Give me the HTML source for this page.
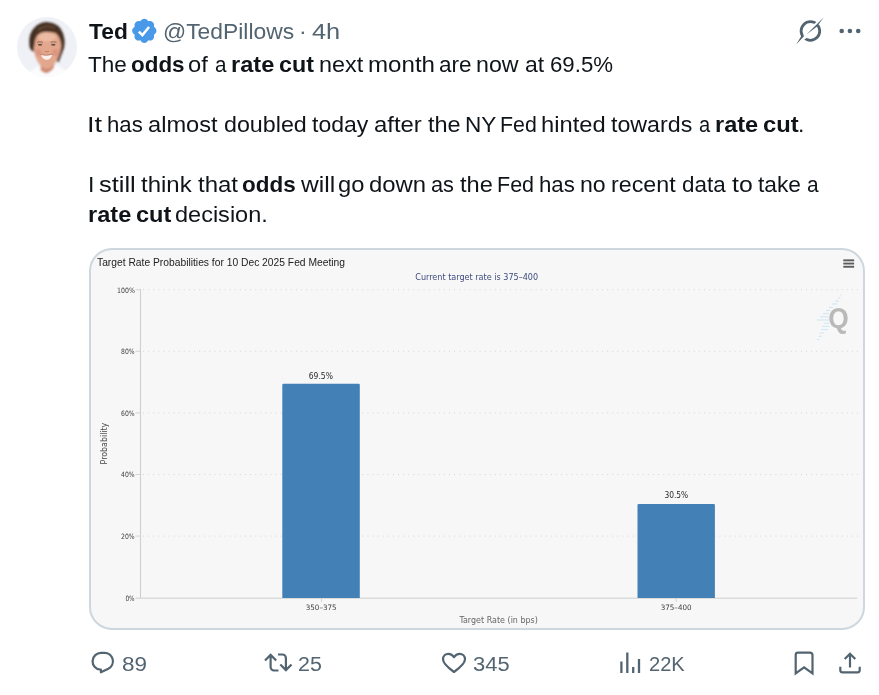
<!DOCTYPE html>
<html><head><meta charset="utf-8">
<style>
html,body{margin:0;padding:0;background:#fff;}
body{width:879px;height:695px;position:relative;overflow:hidden;font-family:"Liberation Sans",sans-serif;color:#0f1419;}
.abs{position:absolute;white-space:nowrap;}
.t{font-size:21.5px;line-height:30px;left:89px;letter-spacing:0.35px;}
.g{color:#536471;}
b{font-weight:700;}
#card{position:absolute;box-sizing:border-box;left:89px;top:248px;width:776px;height:382px;border:2px solid #cdd7dd;border-radius:23px;background:#f7f7f7;overflow:hidden;}
.act{font-size:19.5px;color:#536471;line-height:22px;transform-origin:0 0;}
svg{position:absolute;left:0;top:0;overflow:visible;}
svg text{font-family:"DejaVu Sans","Liberation Sans",sans-serif;}
.w{position:absolute;white-space:nowrap;font-size:22.3px;line-height:30px;transform-origin:0 0;}
</style></head><body>
<!-- avatar -->
<svg id="avatar" width="879" height="695" viewBox="0 0 879 695">
<defs>
<clipPath id="avc"><circle cx="47" cy="47" r="30"/></clipPath>
<filter id="bl" x="-20%" y="-20%" width="140%" height="140%"><feGaussianBlur stdDeviation="1.1"/></filter>
<filter id="bl2" x="-20%" y="-20%" width="140%" height="140%"><feGaussianBlur stdDeviation="0.6"/></filter>
</defs>
<circle cx="47" cy="47" r="30" fill="#eff1f6"/>
<g clip-path="url(#avc)">
 <g filter="url(#bl)">
  <!-- shirt -->
  <path d="M30 72 Q36 66.500 41 66 L47 75 L55 64.500 Q62 66.500 67 73 L70 84 L26 84 Z" fill="#fcfcfe"/>
  <!-- neck -->
  <path d="M40.500 62 L40.500 70 Q46 77 53.500 68.500 L56 58 Z" fill="#cf8a72"/>
  <!-- hair back -->
  <path d="M29.500 47 Q27.500 33 36 26 Q44 19.500 54 23.500 Q63 27 64.600 40 Q65 47 62.500 52 L58.500 62.500 L56 60 L58 40 L36 38 L34.500 52 Q31 51 29.500 47 Z" fill="#412d22"/>
  <!-- face -->
  <path d="M33.800 45 Q33.500 55 38.500 63 Q42.500 68.800 46.500 68.800 Q51 68.800 55.500 62.500 Q60.500 55 61.300 45 Q61.500 36 55 32 Q47 28.500 40 31.500 Q34 35 33.800 45 Z" fill="#e3a78d"/>
  <ellipse cx="47" cy="37" rx="9" ry="4.500" fill="#ecbba3"/>
  <ellipse cx="38.500" cy="52.500" rx="3.200" ry="3.500" fill="#dc9580"/>
  <ellipse cx="55.500" cy="52.500" rx="3.200" ry="3.500" fill="#dc9580"/>
  <!-- fringe -->
  <path d="M31.500 44 Q31 31 41 26.500 Q52 23 59.500 30 Q64 35 63.500 46 Q61.500 47 60.800 43 Q60 36.500 55.500 33 Q50 31.500 44.500 32 Q38.500 32.500 36 37.500 Q34.500 41 34.300 46 Q32 47 31.500 44 Z" fill="#453024"/>
  <path d="M38 30 Q46 24 55 28" stroke="#6a4a36" stroke-width="1.600" fill="none"/>
 </g>
 <g filter="url(#bl2)">
  <path d="M40.800 54.700 Q46.500 56.300 52.600 54.500 Q50.500 59.800 46.700 59.800 Q43 59.800 40.800 54.700Z" fill="#fbf1ec"/>
  <path d="M40.500 54.500 Q46.500 56 53 54.200" stroke="#b5705f" stroke-width="0.700" fill="none"/>
  <ellipse cx="40" cy="44.800" rx="2.300" ry="1" fill="#6f5148"/>
  <ellipse cx="53.300" cy="44.800" rx="2.300" ry="1" fill="#6f5148"/>
  <path d="M37 42.300 Q40 41.200 43 42.300 M50.500 42.300 Q53.500 41.200 56.500 42.300" stroke="#8a6250" stroke-width="0.900" fill="none"/>
  <path d="M44.500 51.300 Q46.700 52.500 49 51.300" stroke="#c07f68" stroke-width="1" fill="none"/>
 </g>
</g>
</svg>

<span class="w" style="left:89.12px;top:16.80px;transform:scaleX(1.0216)"><b>Ted</b></span>
<span class="w g" style="left:162.92px;top:16.80px;transform:scaleX(1.0245)">@TedPillows</span>
<span class="w g" style="left:298.89px;top:16.80px;transform:scaleX(1.0300)">·</span>
<span class="w g" style="left:311.98px;top:16.80px;transform:scaleX(1.1370)">4h</span>

<span class="w" style="left:88.03px;top:49.80px;transform:scaleX(1.0088)">The</span>
<span class="w" style="left:130.63px;top:49.80px;transform:scaleX(1.0062)"><b>odds</b></span>
<span class="w" style="left:188.22px;top:49.80px;transform:scaleX(1.0645)">of</span>
<span class="w" style="left:214.50px;top:49.80px;transform:scaleX(0.9270)">a</span>
<span class="w" style="left:231.07px;top:49.80px;transform:scaleX(1.0580)"><b>rate</b></span>
<span class="w" style="left:279.26px;top:49.80px;transform:scaleX(1.0432)"><b>cut</b></span>
<span class="w" style="left:318.80px;top:49.80px;transform:scaleX(1.0495)">next</span>
<span class="w" style="left:368.37px;top:49.80px;transform:scaleX(1.0808)">month</span>
<span class="w" style="left:439.05px;top:49.80px;transform:scaleX(1.0101)">are</span>
<span class="w" style="left:475.99px;top:49.80px;transform:scaleX(1.0398)">now</span>
<span class="w" style="left:524.50px;top:49.80px;transform:scaleX(1.0300)">at</span>
<span class="w" style="left:550.11px;top:49.80px;transform:scaleX(0.9970)">69.5%</span>

<span class="w" style="left:86.93px;top:109.80px;transform:scaleX(1.2170)">It</span>
<span class="w" style="left:107.34px;top:109.80px;transform:scaleX(0.9949)">has</span>
<span class="w" style="left:148.05px;top:109.80px;transform:scaleX(1.0591)">almost</span>
<span class="w" style="left:223.62px;top:109.80px;transform:scaleX(1.0430)">doubled</span>
<span class="w" style="left:312.06px;top:109.80px;transform:scaleX(1.0327)">today</span>
<span class="w" style="left:373.81px;top:109.80px;transform:scaleX(1.0714)">after</span>
<span class="w" style="left:427.53px;top:109.80px;transform:scaleX(1.0537)">the</span>
<span class="w" style="left:464.82px;top:109.80px;transform:scaleX(1.0116)">NY</span>
<span class="w" style="left:499.73px;top:109.80px;transform:scaleX(0.9562)">Fed</span>
<span class="w" style="left:541.15px;top:109.80px;transform:scaleX(1.0633)">hinted</span>
<span class="w" style="left:610.95px;top:109.80px;transform:scaleX(1.0407)">towards</span>
<span class="w" style="left:698.62px;top:109.80px;transform:scaleX(0.9000)">a</span>
<span class="w" style="left:715.20px;top:109.80px;transform:scaleX(1.0553)"><b>rate</b></span>
<span class="w" style="left:762.81px;top:109.80px;transform:scaleX(1.0643)"><b>cut</b></span>
<span class="w" style="left:797.80px;top:109.80px;transform:scaleX(1.0300)">.</span>

<span class="w" style="left:87.53px;top:169.80px;transform:scaleX(1.0300)">I</span>
<span class="w" style="left:99.38px;top:169.80px;transform:scaleX(1.1388)">still</span>
<span class="w" style="left:140.94px;top:169.80px;transform:scaleX(1.0755)">think</span>
<span class="w" style="left:197.54px;top:169.80px;transform:scaleX(1.0764)">that</span>
<span class="w" style="left:242.05px;top:169.80px;transform:scaleX(1.0066)"><b>odds</b></span>
<span class="w" style="left:300.92px;top:169.80px;transform:scaleX(1.1046)">will</span>
<span class="w" style="left:338.22px;top:169.80px;transform:scaleX(1.0632)">go</span>
<span class="w" style="left:369.06px;top:169.80px;transform:scaleX(1.0715)">down</span>
<span class="w" style="left:431.06px;top:169.80px;transform:scaleX(0.9751)">as</span>
<span class="w" style="left:460.29px;top:169.80px;transform:scaleX(1.0582)">the</span>
<span class="w" style="left:497.18px;top:169.80px;transform:scaleX(0.9647)">Fed</span>
<span class="w" style="left:538.62px;top:169.80px;transform:scaleX(0.9978)">has</span>
<span class="w" style="left:579.76px;top:169.80px;transform:scaleX(1.0363)">no</span>
<span class="w" style="left:610.88px;top:169.80px;transform:scaleX(1.0427)">recent</span>
<span class="w" style="left:681.78px;top:169.80px;transform:scaleX(1.0044)">data</span>
<span class="w" style="left:731.55px;top:169.80px;transform:scaleX(1.1115)">to</span>
<span class="w" style="left:757.68px;top:169.80px;transform:scaleX(1.0196)">take</span>
<span class="w" style="left:806.50px;top:169.80px;transform:scaleX(0.9358)">a</span>

<span class="w" style="left:88.02px;top:199.80px;transform:scaleX(1.0570)"><b>rate</b></span>
<span class="w" style="left:135.78px;top:199.80px;transform:scaleX(1.0543)"><b>cut</b></span>
<span class="w" style="left:175.20px;top:199.80px;transform:scaleX(1.0543)">decision.</span>


<!-- verified badge, grok, more -->
<svg id="topicons" width="879" height="695" viewBox="0 0 879 695">
 <g transform="translate(144.300,30.800) scale(1.185) translate(-12,-12)">
  <path d="M22.25 12c0-1.430-.88-2.670-2.190-3.340.460-1.390.200-2.900-.810-3.910s-2.520-1.270-3.910-.810c-.660-1.310-1.910-2.190-3.340-2.190s-2.670.880-3.330 2.190c-1.400-.460-2.910-.200-3.920.810s-1.260 2.520-.800 3.910c-1.310.670-2.200 1.910-2.200 3.340s.890 2.670 2.200 3.340c-.460 1.390-.210 2.900.800 3.910s2.520 1.260 3.910.810c.670 1.310 1.910 2.190 3.340 2.190s2.680-.880 3.340-2.190c1.390.450 2.900.200 3.910-.810s1.270-2.520.810-3.910c1.310-.670 2.190-1.910 2.190-3.340z" fill="#4a99e9"/>
  <path d="M7.400 12.700 L10.400 15.600 L16 8.800" stroke="#fff" stroke-width="2.100" fill="none" stroke-linecap="butt" stroke-linejoin="miter"/>
 </g>
 <!-- grok -->
 <g fill="none" stroke="#536471">
  <circle cx="810.400" cy="31" r="9.300" stroke-width="2.800"/>
 </g>
 <path d="M824 17.2 L795.8 44.8 L807 36 L812 27.5 Z" fill="#fff" stroke="#fff" stroke-width="2.4" stroke-linejoin="round"/>
 <path d="M823.6 17.6 L806.5 34.5 L817 26.5 Z" fill="#536471"/>
 <path d="M796.2 44.4 L804 36.2 L802.2 34.6 Z" fill="#536471"/>
 <circle cx="841.7" cy="31" r="2.3" fill="#536471"/>
 <circle cx="849.9" cy="31" r="2.3" fill="#536471"/>
 <circle cx="858.2" cy="31" r="2.3" fill="#536471"/>
</svg>

<div id="card"></div>
<!-- chart -->
<svg id="chart" width="879" height="695" viewBox="0 0 879 695">
 <text x="97" y="265.600" font-size="10.800" fill="#222" style="font-family:'Liberation Sans',sans-serif" textLength="248" lengthAdjust="spacingAndGlyphs">Target Rate Probabilities for 10 Dec 2025 Fed Meeting</text>
 <text x="415.300" y="280.200" font-size="8.400" fill="#3e4a7c" textLength="122.800" lengthAdjust="spacingAndGlyphs">Current target rate is 375–400</text>
 <!-- gridlines -->
 <g stroke="#d6d6d6" stroke-width="1" stroke-dasharray="1 4.100">
  <line x1="143" y1="289.700" x2="858" y2="289.700"/>
  <line x1="143" y1="351.300" x2="858" y2="351.300"/>
  <line x1="143" y1="412.900" x2="858" y2="412.900"/>
  <line x1="143" y1="474.500" x2="858" y2="474.500"/>
  <line x1="143" y1="536.100" x2="858" y2="536.100"/>
 </g>
 <line x1="140.500" y1="289.200" x2="140.500" y2="598" stroke="#cfcfcf" stroke-width="1.100"/>
 <line x1="135.500" y1="598.200" x2="857.300" y2="598.200" stroke="#cfcfcf" stroke-width="1"/>
 <g stroke="#d0d0d0" stroke-width="0.900">
  <line x1="135.500" y1="289.700" x2="140.500" y2="289.700"/>
  <line x1="135.500" y1="351.300" x2="140.500" y2="351.300"/>
  <line x1="135.500" y1="412.900" x2="140.500" y2="412.900"/>
  <line x1="135.500" y1="474.500" x2="140.500" y2="474.500"/>
  <line x1="135.500" y1="536.100" x2="140.500" y2="536.100"/>
  <line x1="321.500" y1="598" x2="321.500" y2="602"/>
  <line x1="676.200" y1="598" x2="676.200" y2="602"/>
 </g>
 <g font-size="7.300" fill="#3c3c3c" lengthAdjust="spacingAndGlyphs">
  <text x="117" y="292.500" textLength="17.800" lengthAdjust="spacingAndGlyphs">100%</text>
  <text x="121" y="354.100" textLength="13.600" lengthAdjust="spacingAndGlyphs">80%</text>
  <text x="121" y="415.700" textLength="13.600" lengthAdjust="spacingAndGlyphs">60%</text>
  <text x="121" y="477.300" textLength="13.600" lengthAdjust="spacingAndGlyphs">40%</text>
  <text x="121" y="538.900" textLength="13.600" lengthAdjust="spacingAndGlyphs">20%</text>
  <text x="125.400" y="600.700" textLength="9.200" lengthAdjust="spacingAndGlyphs">0%</text>
 </g>
 <text transform="translate(107,464.400) rotate(-90)" font-size="8" fill="#484848" textLength="41.700" lengthAdjust="spacingAndGlyphs">Probability</text>
 <!-- bars -->
 <path d="M282.300 598 V385 a1.200 1.200 0 0 1 1.200 -1.200 H358.600 a1.200 1.200 0 0 1 1.200 1.200 V598 Z" fill="#4380b6"/>
 <path d="M637.500 598 V505.100 a1.200 1.200 0 0 1 1.200 -1.200 H713.700 a1.200 1.200 0 0 1 1.200 1.200 V598 Z" fill="#4380b6"/>
 <g font-size="8.400" fill="#2a2a2a">
  <text x="308.700" y="378.800" textLength="24.200" lengthAdjust="spacingAndGlyphs">69.5%</text>
  <text x="664.400" y="498.400" textLength="23.800" lengthAdjust="spacingAndGlyphs">30.5%</text>
 </g>
 <g font-size="7.400" fill="#444">
  <text x="305.800" y="609.800" textLength="30.800" lengthAdjust="spacingAndGlyphs">350–375</text>
  <text x="660.700" y="609.800" textLength="30.900" lengthAdjust="spacingAndGlyphs">375–400</text>
 </g>
 <text x="459.400" y="623" font-size="8" fill="#666" textLength="78.500" lengthAdjust="spacingAndGlyphs">Target Rate (in bps)</text>
 <!-- menu -->
 <g fill="#5c5c5c"><rect x="843.3" y="259.4" width="10.8" height="1.9"/><rect x="843.3" y="262.6" width="10.8" height="1.9"/><rect x="843.3" y="265.8" width="10.8" height="1.9"/></g>
 <!-- Q logo -->
 <g stroke="#cfe7f5" stroke-width="1.1">
  <line x1="840.5" y1="295" x2="842" y2="295"/>
  <line x1="838" y1="298" x2="840.5" y2="298"/>
  <line x1="835" y1="301" x2="839" y2="301"/>
  <line x1="832" y1="304" x2="837.5" y2="304"/>
  <line x1="829" y1="307.5" x2="833" y2="307.5"/>
  <line x1="826" y1="310.5" x2="830" y2="310.5"/>
  <line x1="823" y1="313.7" x2="829" y2="313.7"/>
  <line x1="820" y1="316.8" x2="829" y2="316.8"/>
  <line x1="817" y1="320" x2="829" y2="320"/>
  <line x1="824" y1="323.2" x2="829" y2="323.2"/>
  <line x1="822.5" y1="326.4" x2="829.5" y2="326.4"/>
  <line x1="821" y1="329.6" x2="828" y2="329.6"/>
  <line x1="819.5" y1="333" x2="824" y2="333"/>
  <line x1="818.5" y1="336.3" x2="821.5" y2="336.3"/>
  <line x1="817" y1="339.5" x2="819" y2="339.5"/>
 </g>
 <text x="828.300" y="327.800" font-size="29" font-weight="700" fill="#b9b9b9" style="font-family:'Liberation Sans',sans-serif" textLength="20.5" lengthAdjust="spacingAndGlyphs">Q</text>
</svg>

<!-- actions -->
<svg id="acticons" width="879" height="695" viewBox="0 0 879 695" fill="none" stroke="#536471" stroke-width="2.2">
 <!-- reply -->
 <path d="M101.300 652.900 h3.200 a8.400 8.400 0 0 1 3.800 15.900 l-7.400 3.500 v-2.600 h-0.300 a8.400 8.400 0 0 1 0.700 -16.800 z" stroke-linejoin="round"/>
 <!-- retweet -->
 <path d="M270.6 671 v-0 M265 660.5 l5.6-5.6 l5.6 5.600 M270.600 655.500 v11.500 a3.500 3.500 0 0 0 3.500 3.500 h4.400" />
 <path d="M291.500 664.500 l-5.600 5.600 l-5.600-5.600 M285.900 669.500 v-11.500 a3.500 3.500 0 0 0 -3.500-3.500 h-4.400" />
 <!-- heart -->
 <path d="M454 672 c-6-4.300-11-8.200-11-12.700 c0-3.200 2.500-5.500 5.400-5.500 c2.300 0 4.300 1.300 5.600 3.400 c1.300-2.100 3.300-3.400 5.600-3.400 c2.900 0 5.400 2.300 5.400 5.500 c0 4.500-5 8.400-11 12.700 z" stroke-linejoin="round"/>
 <!-- views -->
 <g stroke-width="2.300"><line x1="621.400" y1="661.500" x2="621.400" y2="673"/><line x1="627.300" y1="652.500" x2="627.300" y2="673"/><line x1="633.200" y1="667" x2="633.200" y2="673"/><line x1="639" y1="659" x2="639" y2="673"/></g>
 <!-- bookmark -->
 <path d="M795.700 655 a2.300 2.300 0 0 1 2.300-2.300 h12.200 a2.300 2.300 0 0 1 2.300 2.300 v18.300 l-8.400-6 l-8.400 6 z" stroke-linejoin="miter"/>
 <!-- share -->
 <path d="M850 667.500 v-14 M844.700 659 l5.300-5.300 l5.300 5.300 M840.300 666.700 v3.600 a2 2 0 0 0 2 2 h15.400 a2 2 0 0 0 2-2 v-3.600"/>
</svg>
<div id="a1" class="abs act" style="left:122.4px;top:653px;transform:scaleX(1.15)">89</div>
<div id="a2" class="abs act" style="left:298px;top:653px;transform:scaleX(1.1)">25</div>
<div id="a3" class="abs act" style="left:473.4px;top:653px;transform:scaleX(1.125)">345</div>
<div id="a4" class="abs act" style="left:648.8px;top:653px;transform:scaleX(1.03)">22K</div>
</body></html>
